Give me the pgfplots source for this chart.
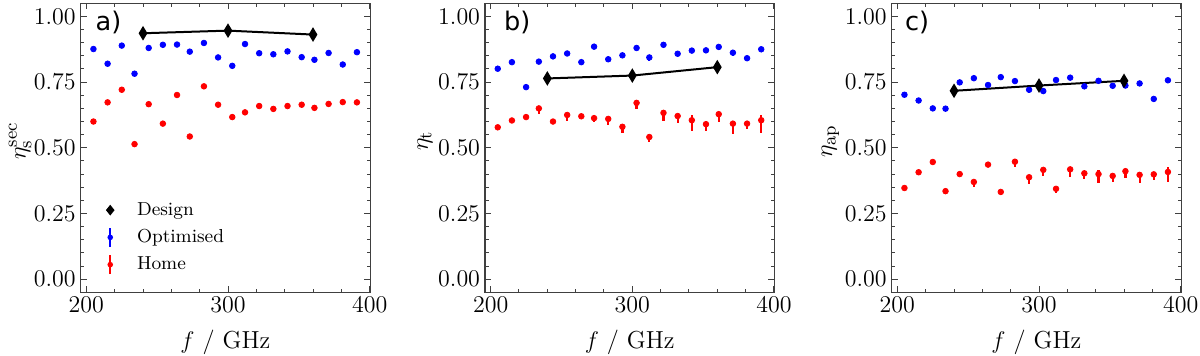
\documentclass[border=0pt]{standalone}
\usepackage{fontspec}
\usepackage{pgfplots}
\usepackage{pgfplotstable}
\pgfplotsset{compat=1.18}
\newfontfamily\panelfont{DejaVu Sans}

% Panel a
\pgfplotstableread{
f y ep em
205 0.876 0 0
215 0.820 0 0
225 0.889 0 0
234 0.782 0 0
244 0.880 0 0
254 0.892 0 0
264 0.893 0 0
273 0.866 0 0
283 0.899 0 0
293 0.844 0 0
303 0.812 0 0
312 0.895 0 0
322 0.860 0 0
332 0.856 0 0
342 0.867 0 0
352 0.845 0 0
361 0.835 0 0
371 0.861 0 0
381 0.817 0 0
391 0.864 0 0
}\optA
\pgfplotstableread{
f y ep em
205 0.600 0 0
215 0.673 0 0
225 0.721 0 0
234 0.514 0 0
244 0.666 0 0
254 0.592 0 0
264 0.701 0 0
273 0.543 0 0
283 0.734 0 0
293 0.664 0 0
303 0.617 0 0
312 0.635 0 0
322 0.659 0 0
332 0.648 0 0
342 0.659 0 0
352 0.664 0 0
361 0.652 0 0
371 0.667 0 0
381 0.674 0 0
391 0.673 0 0
}\homeA
\pgfplotstableread{
f y
240 0.936
300 0.946
360 0.931
}\desA

% Panel b
\pgfplotstableread{
f y ep em
205 0.801 0 0
215 0.826 0 0
225 0.731 0 0
234 0.828 0 0
244 0.848 0 0
254 0.859 0 0
264 0.826 0 0
273 0.885 0 0
283 0.837 0 0
293 0.852 0 0
303 0.880 0 0
312 0.844 0 0.012
322 0.892 0 0
332 0.858 0 0
342 0.870 0 0
352 0.871 0 0
361 0.884 0 0.012
371 0.862 0 0.012
381 0.841 0 0.012
391 0.875 0 0
}\optB
\pgfplotstableread{
f y ep em
205 0.578 0 0
215 0.604 0 0
225 0.617 0 0
234 0.650 0 0.020
244 0.600 0 0.010
254 0.625 0 0.023
264 0.620 0 0
273 0.613 0 0.015
283 0.610 0 0.025
293 0.580 0 0.025
303 0.671 0.005 0.025
312 0.541 0 0.020
322 0.633 0 0.030
332 0.621 0 0.025
342 0.605 0.019 0.040
352 0.590 0 0.025
361 0.628 0 0.030
371 0.592 0 0.038
381 0.592 0 0.020
391 0.605 0.019 0.050
}\homeB
\pgfplotstableread{
f y
240 0.764
300 0.775
360 0.807
}\desB

% Panel c
\pgfplotstableread{
f y ep em
205 0.702 0 0
215 0.680 0 0
225 0.650 0 0
234 0.649 0 0
244 0.749 0 0
254 0.765 0 0
264 0.739 0 0
273 0.769 0 0
283 0.754 0 0
293 0.721 0 0.012
303 0.716 0 0.010
312 0.758 0 0
322 0.767 0 0
332 0.734 0 0
342 0.755 0 0
352 0.736 0 0
361 0.737 0 0.006
371 0.745 0 0.010
381 0.686 0 0.012
391 0.757 0 0
}\optC
\pgfplotstableread{
f y ep em
205 0.347 0 0
215 0.407 0 0
225 0.446 0 0
234 0.335 0 0
244 0.400 0 0
254 0.370 0 0.018
264 0.436 0 0
273 0.332 0 0
283 0.447 0.012 0.020
293 0.388 0 0.025
303 0.416 0.005 0.025
312 0.344 0 0.015
322 0.418 0.010 0.028
332 0.403 0 0.021
342 0.400 0.015 0.033
352 0.393 0 0.024
361 0.411 0.010 0.025
371 0.397 0.010 0.030
381 0.399 0 0.022
391 0.408 0.018 0.040
}\homeC
\pgfplotstableread{
f y
240 0.717
300 0.737
360 0.755
}\desC

\tikzset{panel/.style={anchor=west, inner sep=0pt, font=\panelfont\fontsize{12.8}{14}\selectfont}}
\pgfplotsset{
  myax/.style={
    scale only axis, width=144.7pt, height=144.5pt,
    xmin=196, xmax=400.3, ymin=-0.05, ymax=1.05,
    xtick={200,300,400}, minor x tick num=4,
    ytick={0,0.25,0.5,0.75,1}, minor y tick num=4,
    y tick label style={/pgf/number format/.cd, fixed, fixed zerofill, precision=2, /tikz/.cd},
    tick align=inside, xtick pos=both, ytick pos=both,
    major tick length=3pt, minor tick length=1.8pt,
    axis line style={line width=0.6pt, black!75},
    every tick/.style={black!75, line width=0.5pt},
    tick label style={font=\fontsize{12.3}{14}\selectfont, inner sep=2.3pt},
    label style={font=\fontsize{12.3}{14}\selectfont},
    xlabel={$f$ / GHz},
    xlabel style={yshift=-3pt},
    every axis y label/.style={at={(axis description cs:-0.18,0.524)}, rotate=90, anchor=south, inner sep=0pt, font=\fontsize{13}{15}\selectfont},
  },
  opt/.style={only marks, mark=*, blue, mark size=1.4pt,
    error bars/.cd, y dir=both, y explicit, error mark=none,
    error bar style={line width=1.1pt, blue}, /pgfplots/.cd},
  home/.style={only marks, mark=*, red, mark size=1.4pt,
    error bars/.cd, y dir=both, y explicit, error mark=none,
    error bar style={line width=1.1pt, red}, /pgfplots/.cd},
  des/.style={black, line width=1pt, mark=diamond*, mark size=2.7pt,
    mark options={xscale=0.8, solid}},
}

\begin{document}
\begin{tikzpicture}
% ---- a ----
\begin{axis}[myax, at={(0pt,0pt)}, anchor=south west,
  ylabel={$\eta_{\mathrm{s}}^{\mathrm{sec}}$},
  ylabel style={at={(axis description cs:-0.168,0.524)}},
  legend style={draw=none, fill=none, font=\fontsize{9.4}{11}\selectfont,
    at={(0.021,0.19)}, anchor=west, row sep=1.6pt},
  legend cell align=left]
\addlegendimage{black, legend image code/.code={
  \path[draw=none, fill=none] (0cm,0cm) -- (0.7cm,0cm);
  \fill[black, draw=none, xscale=0.8] (0.3cm/0.8,2.7pt) -- (0.3cm/0.8+2.7pt,0pt) -- (0.3cm/0.8,-2.7pt) -- (0.3cm/0.8-2.7pt,0pt) -- cycle;}}
\addlegendimage{blue, legend image code/.code={
  \path[draw=none, fill=none] (0cm,0cm) -- (0.7cm,0cm);
  \draw[blue, line width=1.1pt] (0.3cm,-0.165cm) -- (0.3cm,0.165cm);
  \fill[blue, draw=none] (0.3cm,0cm) circle (1.4pt);}}
\addlegendimage{red, legend image code/.code={
  \path[draw=none, fill=none] (0cm,0cm) -- (0.7cm,0cm);
  \draw[red, line width=1.1pt] (0.3cm,-0.165cm) -- (0.3cm,0.165cm);
  \fill[red, draw=none] (0.3cm,0cm) circle (1.4pt);}}
\addplot[forget plot, opt] table[x=f, y=y, y error plus=ep, y error minus=em] {\optA};
\addplot[forget plot, home] table[x=f, y=y, y error plus=ep, y error minus=em] {\homeA};
\addplot[forget plot, des] table[x=f, y=y] {\desA};
\legend{Design, Optimised, Home}
\node[panel] at (rel axis cs:0.05,0.934) {a)};
\end{axis}
% ---- b ----
\begin{axis}[myax, at={(202.15pt,0pt)}, anchor=south west,
  ylabel={$\eta_{\mathrm{t}}$}]
\addplot[opt] table[x=f, y=y, y error plus=ep, y error minus=em] {\optB};
\addplot[home] table[x=f, y=y, y error plus=ep, y error minus=em] {\homeB};
\addplot[des] table[x=f, y=y] {\desB};
\node[panel] at (rel axis cs:0.065,0.934) {b)};
\end{axis}
% ---- c ----
\begin{axis}[myax, at={(405.5pt,0pt)}, anchor=south west,
  ylabel={$\eta_{\mathrm{ap}}$}]
\addplot[opt] table[x=f, y=y, y error plus=ep, y error minus=em] {\optC};
\addplot[home] table[x=f, y=y, y error plus=ep, y error minus=em] {\homeC};
\addplot[des] table[x=f, y=y] {\desC};
\node[panel] at (rel axis cs:0.045,0.934) {c)};
\end{axis}
\pgfresetboundingbox
\path[use as bounding box] (-40.35pt,-31.35pt) rectangle (559.65pt,146.15pt);
\end{tikzpicture}
\end{document}
